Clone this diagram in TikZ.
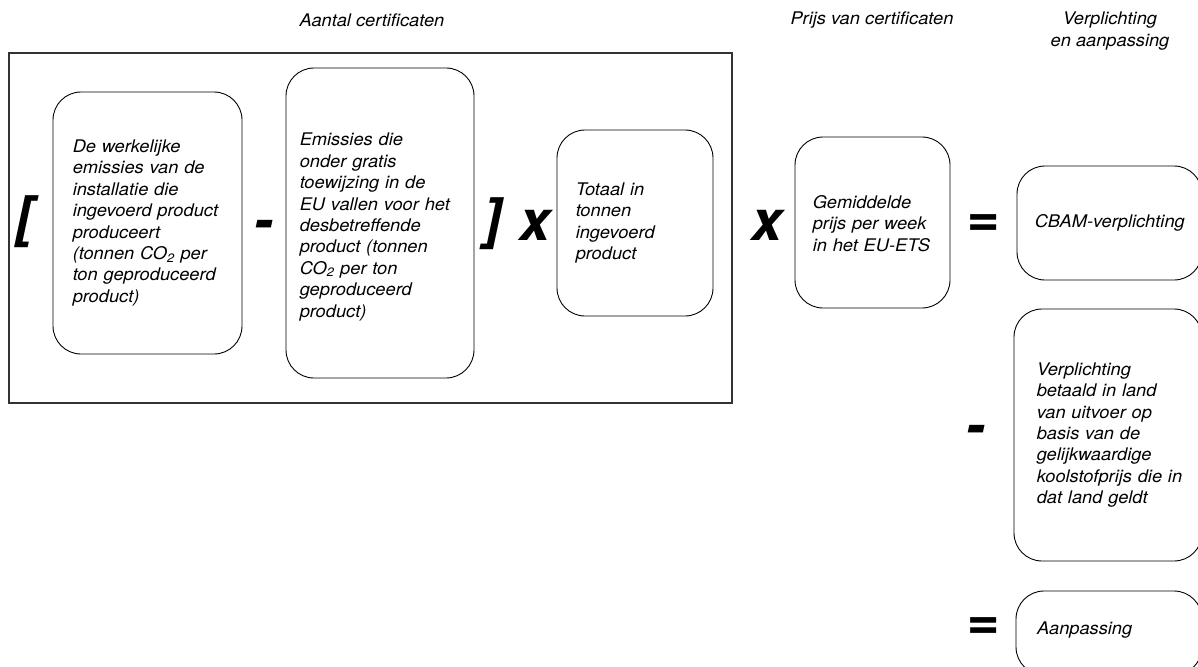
\documentclass[tikz,border=0pt]{standalone}
\usepackage{fontspec}
\setmainfont{TeX Gyre Heros}[FakeStretch=1.05]
\newfontfamily\symfont{TeX Gyre Heros}
\begin{document}
\begin{tikzpicture}[x=1pt,y=-1pt,
  box/.style={draw=black, line width=0.9pt, rounded corners=28pt, inner sep=0pt},
  txt/.style={anchor=west, align=left, inner sep=0pt, font=\fontsize{17.4}{21.4}\selectfont\itshape},
  ttl/.style={align=center, inner sep=0pt, font=\fontsize{17.4}{22.5}\selectfont\itshape},
  sym/.style={inner sep=0pt, font=\fontsize{56}{56}\symfont\bfseries\itshape}]
\clip (0,0) rectangle (1198,666);
\fill[white] (0,0) rectangle (1198,666);
% titles
\node[ttl] (t1) at (372,20) {Aantal certificaten};
\node[ttl] (t2) at (872,20) {Prijs van certificaten};
\node[ttl] (t3) at (1110,31) {Verplichting\\en aanpassing};
% big frame
\draw[draw=black!80, line width=1.2pt] (9,53) rectangle (732,403);
% boxes
\node[box, minimum width=189pt, minimum height=262pt] (b1) at (147.5,223) {};
\node[box, minimum width=188pt, minimum height=310pt] (b2) at (380,223) {};
\node[box, minimum width=156pt, minimum height=186pt] (b3) at (635,223) {};
\node[box, minimum width=155pt, minimum height=171pt] (b4) at (872.5,222.5) {};
\node[box, minimum width=185pt, minimum height=114pt] (b5) at (1109.5,223) {};
\node[box, minimum width=188pt, minimum height=252pt] (b6) at (1108,435) {};
\node[box, minimum width=186pt, minimum height=84pt] (b7) at (1109,633) {};
% texts
\node[txt, text width=165pt] (x1) at ([xshift=20pt]b1.west) {De werkelijke\\emissies van de\\installatie die\\ingevoerd product\\produceert\\(tonnen CO\textsubscript{2} per\\ton geproduceerd\\product)};
\node[txt, text width=170pt] (x2) at ([xshift=14pt,yshift=-4pt]b2.west) {Emissies die\\onder gratis\\toewijzing in de\\EU vallen voor het\\desbetreffende\\product (tonnen\\CO\textsubscript{2} per ton\\geproduceerd\\product)};
\node[txt, text width=130pt] (x3) at ([xshift=19pt]b3.west) {Totaal in\\tonnen\\ingevoerd\\product};
\node[txt, text width=130pt] (x4) at ([xshift=18pt,yshift=-1pt]b4.west) {Gemiddelde\\prijs per week\\in het EU-ETS};
\node[txt, text width=170pt] (x5) at ([xshift=18pt]b5.west) {CBAM-verplichting};
\node[txt, text width=170pt] (x6) at ([xshift=23pt]b6.west) {Verplichting\\betaald in land\\van uitvoer op\\basis van de\\gelijkwaardige\\koolstofprijs die in\\dat land geldt};
\node[txt, text width=160pt] (x7) at (1037,630) {Aanpassing};
% operators
\node[sym] (o1) at (25,222) {[};
\node[sym] (o2) at (263.5,230) {-};
\node[sym] (o3) at (493,224) {]};
\node[sym] (o4) at (535,225) {x};
\node[sym] (o5) at (767,225) {x};
\node[sym] (o6) at (982.5,226) {=};
\node[sym] (o7) at (975.5,435) {-};
\node[sym] (o8) at (982.5,629) {=};
\end{tikzpicture}
\end{document}
